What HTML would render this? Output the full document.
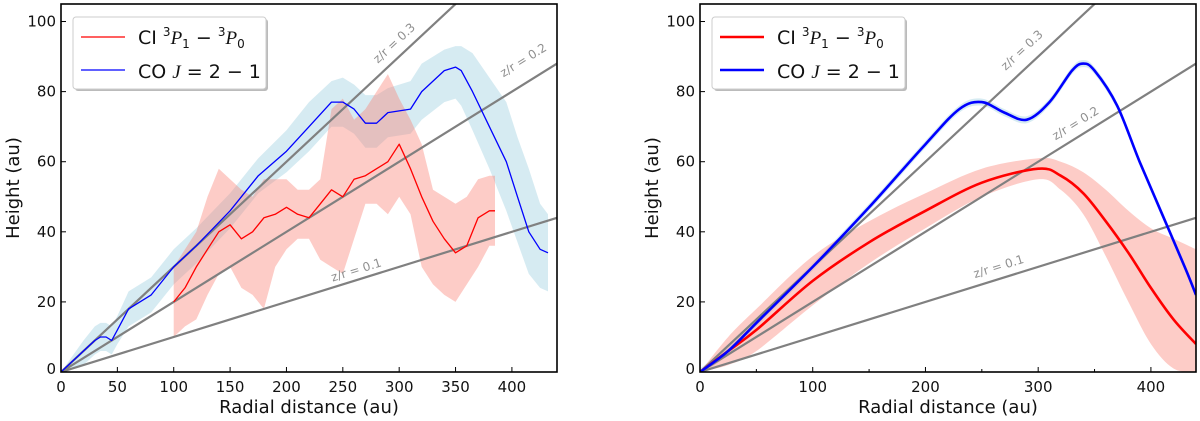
<!DOCTYPE html>
<html><head><meta charset="utf-8"><style>
body{margin:0;background:#fff;width:1200px;height:421px;overflow:hidden}
svg{display:block;font-family:"DejaVu Sans","Liberation Sans",sans-serif}
</style></head><body>
<svg id="fig" width="1200" height="421"></svg>
<script>
// ---- data ----
const leftCoX=[0,20,30,35,40,45,50,60,80,100,120,150,175,200,220,240,250,260,270,280,290,310,320,340,350,355,365,380,395,405,415,425,432];
const leftCoY=[0,6,9,10,10,9,12,18,22,30,36,46,56,63,70,77,77,75,71,71,74,75,80,86,87,86,80,70,60,50,40,35,34];
const leftCoLo=[0,2,5,6,6,5,8,13,17,25,31,41,51,57,63,70,70,68,64,64,67,68,72,77,78,76,69,58,46,37,28,24,23];
const leftCoHi=[0,9,13,14,14,13,16,23,27,35,41,51,61,69,77,83,84,82,79,79,81,83,88,92,93,93,91,84,77,67,58,48,45];
const leftCiX=[100,110,120,130,140,150,160,170,180,190,200,210,220,230,240,250,260,270,280,290,300,310,320,330,340,350,360,370,380,385];
const leftCiY=[20,24,30,35,40,42,38,40,44,45,47,45,44,48,52,50,55,56,58,60,65,58,50,43,38,34,36,44,46,46];
const leftCiLo=[10,13,15,22,28,30,24,22,18,30,35,38,38,32,30,28,38,48,48,45,50,45,30,25,22,20,25,30,36,36];
const leftCiHi=[30,35,40,50,58,55,52,50,55,55,55,52,52,55,75,78,72,75,80,85,78,72,65,52,50,48,50,55,56,56];
const rightCoX=[0,25,50,100,150,200,230,250,270,290,310,330,340,350,370,390,410,430,440];
const rightCoY=[0,6,14,30,47,65,75,77,74,72,77,86,88,86,76,60,45,30,22];
const rightCiX=[0,25,50,100,150,200,250,300,320,340,360,380,400,420,440];
const rightCiY=[0,6,12,26,37,46,54,58,56,51,43,34,24,15,8];
const rightCiLo=[0,2,6,19,31,41,50,55,52,45,33,20,8,1,0];
const rightCiHi=[0,10,18,33,43,51,58,61,60,57,52,46,41,38,35];
const zrValues=[0.1,0.2,0.3];
const xTicksLeft=[0,50,100,150,200,250,300,350,400];
const xTicksRight=[0,100,200,300,400];
const xMinorRight=[50,150,250,350];
const yTicks=[0,20,40,60,80,100];

const NS="http://www.w3.org/2000/svg";
const svg=document.getElementById('fig');
function el(tag,attrs,parent,text){const e=document.createElementNS(NS,tag);for(const k in attrs)e.setAttribute(k,attrs[k]);if(text!==undefined)e.textContent=text;(parent||svg).appendChild(e);return e;}

function panel(id,x0,x1,yTop,yBot){
  const g=el('g',{});
  
  
  const X=v=>x0+v*(x1-x0)/440, Y=v=>yBot-v*(yBot-yTop)/105;
  return {g,X,Y,x0,x1,yTop,yBot};
}
function pts(P,xs,ys){return xs.map((x,i)=>[P.X(x),P.Y(ys[i])]);}
function polyD(p,smooth,start){
  let d=(start?'M':'L')+p[0][0].toFixed(1)+','+p[0][1].toFixed(1);
  for(let i=1;i<p.length;i++){
    if(!smooth){d+='L'+p[i][0].toFixed(1)+','+p[i][1].toFixed(1);continue;}
    const p0=p[Math.max(i-2,0)],p1=p[i-1],p2=p[i],p3=p[Math.min(i+1,p.length-1)];
    const c1=[p1[0]+(p2[0]-p0[0])/6,p1[1]+(p2[1]-p0[1])/6],c2=[p2[0]-(p3[0]-p1[0])/6,p2[1]-(p3[1]-p1[1])/6];
    d+='C'+c1[0].toFixed(1)+','+c1[1].toFixed(1)+' '+c2[0].toFixed(1)+','+c2[1].toFixed(1)+' '+p2[0].toFixed(1)+','+p2[1].toFixed(1);
  }
  return d;
}
function pathLine(P,xs,ys,s){return polyD(pts(P,xs,ys),s,true);}
function pathBand(P,xs,lo,hi,s){return polyD(pts(P,xs,hi),s,true)+polyD(pts(P,xs,lo).reverse(),s,false)+'Z';}

function drawPanel(P,name,coX,coY,coLo,coHi,ciX,ciY,ciLo,ciHi,lw,labelPos,xt,xm,s){
  const clipId='clip-'+name;
  const cp=el('clipPath',{id:clipId},P.g);el('rect',{x:P.x0,y:P.yTop,width:P.x1-P.x0,height:P.yBot-P.yTop},cp);
  const inner=el('g',{'clip-path':'url(#'+clipId+')'},P.g);
  let b=el('path',{d:pathBand(P,coX,coLo,coHi,s),fill:'#add8e6','fill-opacity':0.5},inner);
  
  b=el('path',{d:pathBand(P,ciX,ciLo,ciHi,s),fill:'#fa8072','fill-opacity':0.4},inner);
  
  zrValues.forEach((z,i)=>{
    const l=el('line',{x1:P.X(0),y1:P.Y(0),x2:P.X(440),y2:P.Y(440*z),stroke:'#808080','stroke-width':2.2},inner);
    
  });
  let l=el('path',{d:pathLine(P,ciX,ciY,s),fill:'none',stroke:'#ff0000','stroke-width':lw,'stroke-linejoin':'round'},inner);
  
  l=el('path',{d:pathLine(P,coX,coY,s),fill:'none',stroke:'#0000ff','stroke-width':lw,'stroke-linejoin':'round'},inner);
  
  zrValues.forEach((z,i)=>{
    const [ax,ay]=labelPos[i];const px=P.X(ax),py=P.Y(ay);
    const ang=-Math.atan(z*(P.yBot-P.yTop)/105/((P.x1-P.x0)/440))*180/Math.PI;
    const t=el('text',{x:px,y:py,'font-size':12,fill:'#909090','text-anchor':'middle',transform:`rotate(${ang.toFixed(1)} ${px} ${py})`},P.g,'z/r = '+z);
    
  });
  const fr=el('rect',{x:P.x0,y:P.yTop,width:P.x1-P.x0,height:P.yBot-P.yTop,fill:'none',stroke:'#000','stroke-width':1.6},P.g);
  
  xt.forEach(v=>{const x=P.X(v);el('line',{x1:x,y1:P.yBot,x2:x,y2:P.yBot-5,stroke:'#000','stroke-width':1},P.g);
    const t=el('text',{x:x,y:P.yBot+20,'font-size':15,'text-anchor':'middle',fill:'#111'},P.g,v);
    });
  xm.forEach(v=>{const x=P.X(v);el('line',{x1:x,y1:P.yBot,x2:x,y2:P.yBot-3,stroke:'#000','stroke-width':1},P.g);});
  yTicks.forEach(v=>{const y=P.Y(v);el('line',{x1:P.x0,y1:y,x2:P.x0+5,y2:y,stroke:'#000','stroke-width':1},P.g);
    const t=el('text',{x:P.x0-5,y:y+(v===0?2:5),'font-size':15,'text-anchor':'end',fill:'#111'},P.g,v);
    });
  let t=el('text',{x:(P.x0+P.x1)/2,y:413,'font-size':18,'text-anchor':'middle',fill:'#111'},P.g,'Radial distance (au)');
  
  const cy=(P.yTop+P.yBot)/2;
  t=el('text',{x:P.x0-42,y:cy,'font-size':18,'text-anchor':'middle',fill:'#111',transform:`rotate(-90 ${P.x0-42} ${cy})`},P.g,'Height (au)');
  
  const lx=P.x0+12,ly=17;
  const lg=el('g',{},P.g);
  el('rect',{x:lx+2,y:ly+2,width:193,height:72,rx:3,fill:'#bbb'},lg);
  el('rect',{x:lx,y:ly,width:193,height:72,rx:3,fill:'#fff',stroke:'#ccc','stroke-width':1},lg);
  el('line',{x1:lx+8,y1:ly+20,x2:lx+52,y2:ly+20,stroke:'#ff0000','stroke-width':lw},lg);
  el('line',{x1:lx+8,y1:ly+53,x2:lx+52,y2:ly+53,stroke:'#0000ff','stroke-width':lw},lg);
  const t1=el('text',{x:lx+65,y:ly+27,'font-size':19,fill:'#111'},lg);
  
  t1.innerHTML='CI <tspan font-size="12" dy="-8">3</tspan><tspan dy="8" font-style="italic" font-family="Liberation Serif">P</tspan><tspan font-size="12" dy="4">1</tspan><tspan dy="-4"> − </tspan><tspan font-size="12" dy="-8">3</tspan><tspan dy="8" font-style="italic" font-family="Liberation Serif">P</tspan><tspan font-size="12" dy="4">0</tspan>';
  const t2=el('text',{x:lx+65,y:ly+61,'font-size':19,fill:'#111'},lg);
  
  t2.innerHTML='CO <tspan font-style="italic" font-family="Liberation Serif">J</tspan> = 2 − 1';
}
const L=panel('left-chart',61,557,4,372);
drawPanel(L,'l',leftCoX,leftCoY,leftCoLo,leftCoHi,leftCiX,leftCiY,leftCiLo,leftCiHi,1.3,[[263,28],[412,88],[298,93]],xTicksLeft,[],false);
const R=panel('right-chart',700,1196,4,372);
drawPanel(R,'r',rightCoX,rightCoY,rightCoY.map(v=>v-1),rightCoY.map(v=>v+1),rightCiX,rightCiY,rightCiLo,rightCiHi,2.6,[[266,29],[335,70],[288,91]],xTicksRight,xMinorRight,true);
</script>
</body></html>
